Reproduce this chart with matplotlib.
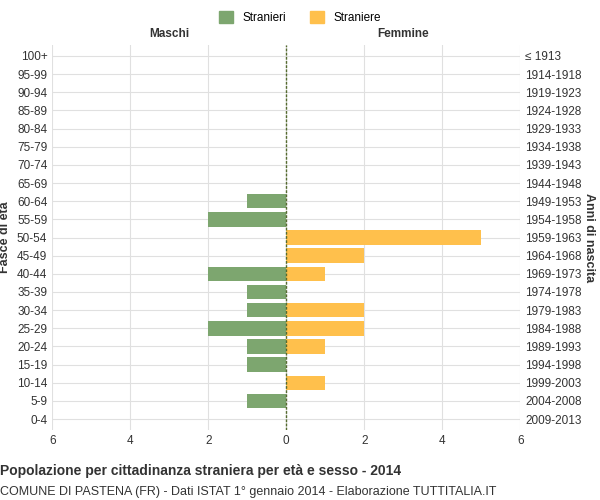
import matplotlib
matplotlib.use("Agg")
import matplotlib.pyplot as plt
from matplotlib.patches import Patch

plt.rcParams["font.family"] = "Liberation Sans"

eta = ["0-4", "5-9", "10-14", "15-19", "20-24", "25-29", "30-34", "35-39", "40-44", "45-49",
       "50-54", "55-59", "60-64", "65-69", "70-74", "75-79", "80-84", "85-89", "90-94", "95-99", "100+"]
anni = ["2009-2013", "2004-2008", "1999-2003", "1994-1998", "1989-1993", "1984-1988", "1979-1983",
        "1974-1978", "1969-1973", "1964-1968", "1959-1963", "1954-1958", "1949-1953", "1944-1948",
        "1939-1943", "1934-1938", "1929-1933", "1924-1928", "1919-1923", "1914-1918", "≤ 1913"]
maschi = [0, 1, 0, 1, 1, 2, 1, 1, 2, 0, 0, 2, 1, 0, 0, 0, 0, 0, 0, 0, 0]
femmine = [0, 0, 1, 0, 1, 2, 2, 0, 1, 2, 5, 0, 0, 0, 0, 0, 0, 0, 0, 0, 0]

verde = "#7da66f"
giallo = "#ffc04c"

fig = plt.figure(figsize=(6, 5), dpi=100)
ax = fig.add_axes([0.087, 0.14, 0.78, 0.77])
y = range(len(eta))
ax.barh(y, [-m for m in maschi], height=0.8, color=verde)
ax.barh(y, femmine, height=0.8, color=giallo)
ax.axvline(0, color="#556b2f", lw=1, ls=(0, (2, 1)))
ax.set_xlim(-6, 6)
ax.set_ylim(-0.6, len(eta) - 0.4)
ax.set_xticks([-6, -4, -2, 0, 2, 4, 6])
ax.set_xticklabels(["6", "4", "2", "0", "2", "4", "6"])
ax.set_yticks(list(y))
ax.set_yticklabels(eta)
ax.grid(True, color="#e0e0e0", lw=0.8)
ax.set_axisbelow(True)
for s in ax.spines.values():
    s.set_visible(False)
ax.tick_params(length=0, labelsize=8.5, colors="#333333")
ax.set_ylabel("Fasce di età", fontsize=9, fontweight="bold", color="#333333", labelpad=4)
ax2 = ax.twinx()
ax2.set_ylim(ax.get_ylim())
ax2.set_yticks(list(y))
ax2.set_yticklabels(anni)
ax2.tick_params(length=0, labelsize=8.5, colors="#333333")
for s in ax2.spines.values():
    s.set_visible(False)
ax2.set_ylabel("Anni di nascita", fontsize=9, fontweight="bold", color="#333333", rotation=270, labelpad=10)
ax.text(-3, len(eta) - 0.1, "Maschi", ha="center", va="bottom", fontsize=8.5, fontweight="bold", color="#333333")
ax.text(3, len(eta) - 0.1, "Femmine", ha="center", va="bottom", fontsize=8.5, fontweight="bold", color="#333333")
fig.legend(handles=[Patch(color=verde, label="Stranieri"), Patch(color=giallo, label="Straniere")],
           loc="upper center", bbox_to_anchor=(0.5, 1.0), ncol=2, frameon=False, fontsize=8.5,
           handlelength=1.2, handleheight=1.2)
fig.text(0.0, 0.05, "Popolazione per cittadinanza straniera per età e sesso - 2014", fontsize=10, fontweight="bold", color="#333333")
fig.text(0.0, 0.01, "COMUNE DI PASTENA (FR) - Dati ISTAT 1° gennaio 2014 - Elaborazione TUTTITALIA.IT", fontsize=9, color="#333333")
fig.savefig("out.png")
